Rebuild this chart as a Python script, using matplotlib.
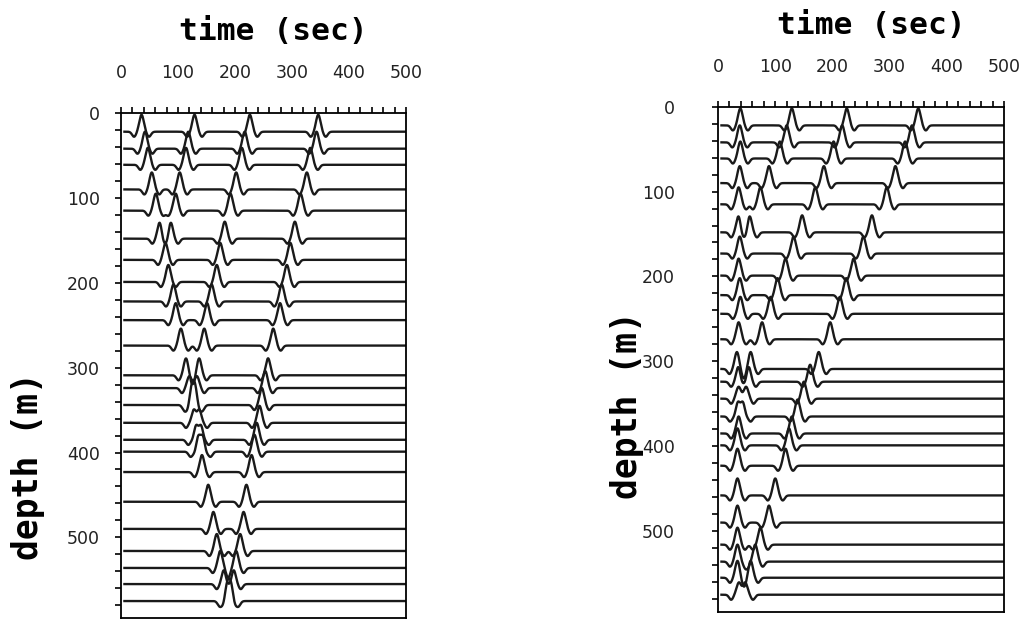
import numpy as np
import matplotlib.pyplot as plt
from matplotlib.ticker import MultipleLocator

# receiver depths (m), same set for both sections
depths = [22, 42, 61, 90, 115, 148, 173, 199, 222, 244, 274, 309,
          324, 344, 365, 385, 399, 423, 458, 490, 516, 536, 555, 575]

# picked arrival times (sec) on each trace, left section
picks_left = [
    [36, 129, 226, 346],
    [42, 118, 217, 343],
    [47, 114, 212, 332],
    [54, 103, 202, 326],
    [61, 96, 192, 315],
    [68, 87, 182, 305],
    [78, 174, 297],
    [83, 168, 291],
    [92, 159, 282],
    [96, 151, 279],
    [105, 146, 267],
    [114, 137, 258],
    [120, 133, 253],
    [124, 130, 247],
    [127, 138, 243],
    [131, 141, 238],
    [135, 144, 234],
    [142, 229],
    [153, 220],
    [162, 215],
    [168, 209],
    [174, 202],
    [181, 197],
    [186, 193],
]

# picked arrival times (sec) on each trace, right section
picks_right = [
    [39, 129, 225, 350],
    [38, 120, 217, 339],
    [39, 108, 202, 327],
    [38, 89, 185, 310],
    [36, 74, 170, 295],
    [36, 55, 147, 269],
    [38, 132, 254],
    [36, 118, 237],
    [38, 104, 224],
    [39, 92, 213],
    [36, 77, 196],
    [33, 57, 176],
    [36, 53, 161],
    [36, 49, 150],
    [34, 44, 139],
    [36, 129],
    [34, 124],
    [34, 118],
    [34, 100],
    [34, 89],
    [34, 74],
    [34, 65],
    [34, 57],
    [36, 48],
]

amp = 20.0  # trace amplitude in metres


def wavelet(t):
    # sharp positive spike with a shallow trough on each side
    peak = np.exp(-(t / 5.5) ** 2)
    side = np.exp(-((t - 13) / 5.0) ** 2) + np.exp(-((t + 13) / 5.0) ** 2)
    return peak - 0.3 * side


def draw_section(ax, picks, ypad):
    t = np.linspace(6, 500, 4000)
    for d, arrivals in zip(depths, picks):
        w = sum(wavelet(t - t0) for t0 in arrivals)
        ax.plot(t, d - amp * w, color='#1a1a1a', lw=1.7)
    ax.set_xlim(0, 500)
    ax.set_ylim(595, 0)
    ax.xaxis.tick_top()
    ax.xaxis.set_major_locator(MultipleLocator(100))
    ax.xaxis.set_minor_locator(MultipleLocator(20))
    ax.yaxis.set_major_locator(MultipleLocator(100))
    ax.yaxis.set_minor_locator(MultipleLocator(20))
    ax.tick_params(which='both', direction='out', length=4, width=1.2,
                   top=True, bottom=False, right=False, left=True)
    ax.tick_params(axis='x', which='major', pad=18, labelsize=12.5, labelcolor='#222222')
    ax.tick_params(axis='y', which='major', pad=ypad, labelsize=12.5, labelcolor='#222222')
    for s in ax.spines.values():
        s.set_linewidth(1.3)


fig = plt.figure(figsize=(10.29, 6.2), dpi=100)
ax1 = fig.add_axes([0.1176, 0.0032, 0.277, 0.8145])
ax2 = fig.add_axes([0.6978, 0.0134, 0.278, 0.8145])
draw_section(ax1, picks_left, 11)
draw_section(ax2, picks_right, 27)

label_font = dict(family='DejaVu Sans Mono', weight='bold',
                  ha='center', va='center')
fig.text(273 / 1029, 1 - 32 / 620, 'time (sec)', fontsize=22.5, **label_font)
fig.text(871 / 1029, 1 - 25 / 620, 'time (sec)', fontsize=22.5, **label_font)
fig.text(28 / 1029, 1 - 466 / 620, 'depth (m)', rotation=90, fontsize=25, **label_font)
fig.text(627 / 1029, 1 - 405 / 620, 'depth (m)', rotation=90, fontsize=25, **label_font)

fig.savefig('out.png', dpi=100)
